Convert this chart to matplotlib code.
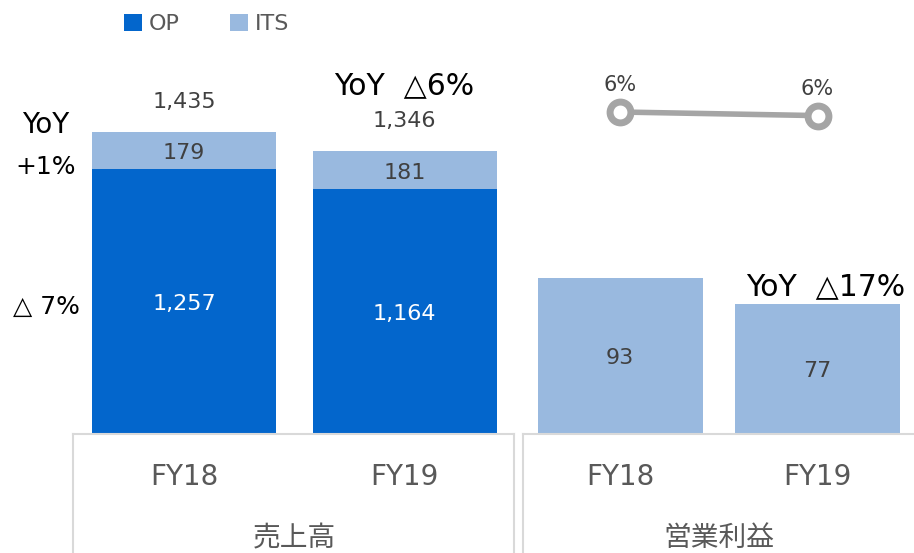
#!/usr/bin/env python3

import matplotlib

matplotlib.use("Agg")
import matplotlib.pyplot as plt
from matplotlib import transforms
from matplotlib.lines import Line2D

# Verdana-like latin (as in Meiryo), CJK falls back to Noto
plt.rcParams["font.family"] = ["DejaVu Sans", "Noto Sans CJK JP"]

# data
years = ["FY18", "FY19"]
groups = ["売上高", "営業利益"]
sales_op = [1257, 1164]
sales_its = [179, 181]
sales_total = [1435, 1346]
profit = [93, 77]
margin = [6.5, 5.7]
series_names = ["OP", "ITS"]

OP_BLUE = "#0366CC"
ITS_BLUE = "#99B9DF"
LABEL = "#404040"
AXIS_TXT = "#595959"
BOX = "#D9D9D9"
LINE_GRAY = "#A5A5A5"

W, H = 914, 553


def px(x, y):
    """figure-pixel (from top-left) to figure fraction"""
    return x / W, 1 - y / H


def center_labels(ax, bars, values, color):
    for rect, v in zip(bars, values):
        x = rect.get_x() + rect.get_width() / 2
        y = rect.get_y() + rect.get_height() / 2
        ax.annotate(f"{v:,}", (x, y), xytext=(0, -2), textcoords="offset points",
                    ha="center", va="center", color=color, fontsize=16)


def main() -> int:
    fig = plt.figure(figsize=(W / 100, H / 100), dpi=100)
    ax_h = 377.6
    ax = fig.add_axes([72 / W, 120 / H, 842 / W, ax_h / H])
    ax2 = ax.twinx()
    ax3 = ax.twinx()

    # layout: bar centres/widths in axis pixel units
    sales_x = [112, 332.5]
    profit_x = [548, 745.5]

    op_bars = ax.bar(sales_x, sales_op, width=184, color=OP_BLUE, label=series_names[0])
    its_bars = ax.bar(sales_x, sales_its, width=184, bottom=sales_op, color=ITS_BLUE,
                      label=series_names[1])
    pr_bars = ax2.bar(profit_x, profit, width=165, color=ITS_BLUE)

    center_labels(ax, op_bars, sales_op, "white")
    center_labels(ax, its_bars, sales_its, LABEL)
    center_labels(ax2, pr_bars, profit, LABEL)
    ax.bar_label(its_bars, labels=[f"{v:,}" for v in sales_total], padding=14,
                 color=LABEL, fontsize=16)

    ax3.plot(profit_x, margin, color=LINE_GRAY, lw=4, marker="o", ms=15,
             mfc="white", mec=LINE_GRAY, mew=5, zorder=3)
    for x, m in zip(profit_x, margin):
        ax3.annotate(f"{m:.0f}%", (x, m), xytext=(0, 12), textcoords="offset points",
                     ha="center", va="bottom", color=LABEL, fontsize=15)

    ax.set_xlim(0, 842)
    ax.set_ylim(0, 1800)
    ax2.set_ylim(0, ax_h / 1.67)
    low = 6.5 - (433 - 112) / 4.5
    ax3.set_ylim(low, low + ax_h / 4.5)
    for a in (ax, ax2, ax3):
        a.set_axis_off()

    # category labels under the bars
    tr = transforms.blended_transform_factory(ax.transData, fig.transFigure)
    for x, yr in zip(sales_x + profit_x, years + years):
        ax.text(x, 1 - 477 / H, yr, transform=tr, ha="center", va="center",
                fontsize=20, color=AXIS_TXT)
    ax.text(sum(sales_x) / 2, 1 - 538 / H, groups[0], transform=tr, ha="center",
            va="center", fontsize=20, color=AXIS_TXT)
    ax.text(sum(profit_x) / 2, 1 - 538 / H, groups[1], transform=tr, ha="center",
            va="center", fontsize=20, color=AXIS_TXT)

    # grouping boxes
    for x0, x1 in [(73, 514), (523, 916)]:
        for xs, ys in [([x0, x1], [434, 434]), ([x0, x0], [434, 555]), ([x1, x1], [434, 555])]:
            pts = [px(a, b) for a, b in zip(xs, ys)]
            fig.add_artist(Line2D([p[0] for p in pts], [p[1] for p in pts],
                                  color=BOX, lw=1.5, transform=fig.transFigure))

    # YoY notes
    fig.text(*px(46, 125), "YoY", ha="center", va="center", fontsize=20)
    fig.text(*px(46, 167), "+1%", ha="center", va="center", fontsize=18)
    fig.text(*px(46, 307), "△ 7%", ha="center", va="center", fontsize=18)
    fig.text(*px(404, 86), "YoY  △6%", ha="center", va="center", fontsize=21.5)
    fig.text(*px(826, 287), "YoY  △17%", ha="center", va="center", fontsize=21.5)

    fig.legend(handles=[op_bars, its_bars], loc="center left", bbox_to_anchor=px(104, 24),
               ncol=2, frameon=False, fontsize=16, handlelength=0.8, handleheight=0.8,
               handletextpad=0.3, columnspacing=2.3, labelcolor=AXIS_TXT)

    fig.savefig("out.png", dpi=100)
    plt.close(fig)
    return 0


if __name__ == "__main__":
    raise SystemExit(main())
